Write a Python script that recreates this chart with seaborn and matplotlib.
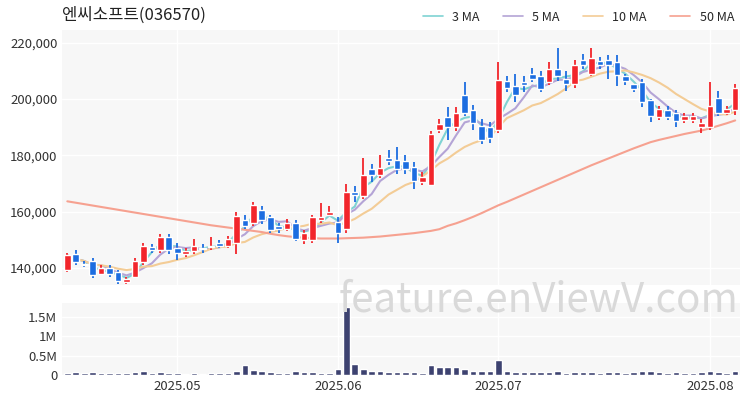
import numpy as np
import pandas as pd
import matplotlib
matplotlib.use("Agg")
import matplotlib.pyplot as plt
import seaborn as sns

# ── Data (thousand KRW) ───────────────────────────────────────────
opens = [139.5, 145, 141.5, 142.5, 138, 140, 138.5, 135, 137, 142,
         147.5, 146.5, 151, 147, 145, 146, 147, 147.5, 149, 148,
         149, 157, 156, 160.5, 158, 155, 154, 156, 150, 150,
         157, 159, 156.5, 154, 167, 165.5, 175, 173, 179, 178.5,
         178, 176, 170.5, 169.5, 189, 193.5, 190, 201.5, 196, 190.5,
         190, 189, 206.5, 204.8, 206, 209, 208, 206, 210.5, 207,
         205.5, 214, 209, 213.5, 214, 213, 208, 205.5, 206, 199.5,
         193.5, 196, 195, 192.5, 192.5, 190, 190, 200.5, 195, 196]
closes = [144.5, 142, 141, 137.5, 140, 138, 135.5, 136, 142.5, 148,
          146.5, 151, 146.5, 145.5, 146, 148, 146.8, 148, 148, 150.5,
          158.5, 155, 162.5, 157, 153.5, 154, 156, 150.5, 152.5, 158,
          158, 160, 152.5, 167, 166, 173, 173, 175.5, 178, 175,
          175, 171, 172.5, 187.5, 191, 190, 195, 195, 191.5, 185.5,
          186, 206.8, 204, 201.3, 205, 207, 203.5, 210.5, 208, 205.5,
          212, 212, 214.5, 212, 212, 208.5, 206.5, 203.5, 199, 194,
          196.5, 193.8, 192.3, 194, 194, 191.5, 197.5, 195, 196.3, 204]
highs = [145.5, 146.5, 142.5, 143.5, 141, 141, 139.5, 137, 143.5, 149,
         148.5, 152, 152, 149, 147, 150.5, 148.5, 151, 150, 151.5,
         160, 159, 163.5, 162, 159, 156, 157.5, 157, 153.5, 159,
         163, 162, 158, 170, 169, 179, 177, 180, 182, 183,
         180, 177.5, 174, 188.5, 193, 197, 197, 206, 198, 193,
         192, 213, 208, 209, 208, 211, 210, 213, 218, 210,
         214, 216, 218, 215, 215.5, 215.5, 209, 205.5, 207, 200,
         197.5, 197.5, 196, 195, 195, 193, 206, 203, 197.5, 205.5]
lows = [138.5, 141, 140.5, 136.5, 137.5, 137, 134.5, 134.5, 136.5, 141,
        145.5, 145.5, 145, 143, 144, 145, 145.5, 146.5, 147, 147,
        145, 154, 155, 155.5, 152.5, 152.5, 153, 149.5, 148.5, 149,
        156, 158.5, 149, 152.5, 163.5, 164.5, 170.5, 172, 176.5, 173.5,
        173.5, 168, 169.5, 169, 188, 185.5, 188.5, 194, 189, 184,
        184.5, 188, 202.5, 199, 202.5, 206, 202.5, 205, 206.5, 203,
        204, 210.5, 208, 210.5, 207, 204.5, 205, 202.5, 197, 192,
        192.5, 192.5, 190, 191.5, 191.5, 188, 189, 194, 194.5, 194.5]
volume = [0.06, 0.07, 0.05, 0.08, 0.06, 0.05, 0.06, 0.05, 0.08, 0.1,
          0.06, 0.07, 0.06, 0.05, 0.04, 0.05, 0.04, 0.05, 0.05, 0.06,
          0.12, 0.25, 0.14, 0.1, 0.08, 0.06, 0.06, 0.1, 0.07, 0.08,
          0.06, 0.06, 0.15, 1.75, 0.3, 0.16, 0.12, 0.1, 0.08, 0.07,
          0.07, 0.09, 0.06, 0.25, 0.22, 0.2, 0.2, 0.16, 0.12, 0.1,
          0.1, 0.4, 0.12, 0.09, 0.07, 0.08, 0.07, 0.08, 0.1, 0.06,
          0.08, 0.07, 0.08, 0.06, 0.07, 0.08, 0.06, 0.07, 0.1, 0.12,
          0.07, 0.06, 0.07, 0.05, 0.05, 0.07, 0.12, 0.09, 0.06, 0.1]
ma50 = [163.7, 163.2, 162.7, 162.2, 161.7, 161.2, 160.7, 160.2, 159.7, 159.2,
        158.7, 158.2, 157.7, 157.2, 156.7, 156.2, 155.7, 155.2, 154.8, 154.4,
        154.0, 153.6, 153.2, 152.8, 152.2, 151.7, 151.3,
        151.0, 150.8, 150.6, 150.5, 150.5, 150.5,
        150.6, 150.7, 150.8, 151.0, 151.2, 151.5, 151.8, 152.1, 152.4, 152.8, 153.2,
        153.8, 155.0, 155.9, 157.0, 158.2, 159.5, 160.9, 162.3, 163.5,
        164.8, 166.1, 167.4, 168.7, 170.0, 171.3, 172.6, 173.9, 175.2, 176.5, 177.7, 178.9,
        180.1, 181.3, 182.5, 183.6, 184.7,
        185.5, 186.2, 186.9, 187.6, 188.2, 188.8,
        189.6, 190.5, 191.4, 192.4]
tick_pos = [13, 32, 51, 76]
tick_labels = ["2025.05", "2025.06", "2025.07", "2025.08"]

df = pd.DataFrame({"open": opens, "close": closes, "high": highs, "low": lows,
                   "volume": volume, "ma50": ma50})
df = df * 1000
df["volume"] = df["volume"] * 1000
df["x"] = np.arange(len(df))
df["ma3"] = df["close"].rolling(3, min_periods=1).mean()
df["ma5"] = df["close"].rolling(5, min_periods=1).mean()
df["ma10"] = df["close"].rolling(10, min_periods=1).mean()

# ── Style ─────────────────────────────────────────────────────────
sns.set_style("white")
plt.rcParams["font.family"] = ["Noto Sans CJK KR", "DejaVu Sans"]

RED, BLUE = "#f2252b", "#1c6de0"
fig = plt.figure(figsize=(7.5, 4), dpi=100)
ax = fig.add_axes([0.083, 0.2875, 0.904, 0.6375])
axv = fig.add_axes([0.083, 0.062, 0.904, 0.18], sharex=ax)
for a in (ax, axv):
    a.set_facecolor("#f7f7f7")
    for s in a.spines.values():
        s.set_visible(False)
    a.grid(axis="both", color="white", lw=1)
    a.tick_params(length=0, labelsize=9.5, colors="#333333")

# moving averages
ma_styles = [("ma3", "3 MA", "#7fd3d3"), ("ma5", "5 MA", "#b4a4d6"),
             ("ma10", "10 MA", "#f3cc96"), ("ma50", "50 MA", "#f6a190")]
for col, lab, colr in ma_styles:
    sns.lineplot(data=df, x="x", y=col, ax=ax, color=colr, lw=1.5, label=lab)

# candles
up = df["close"] >= df["open"]
colors = np.where(up, RED, BLUE)
ax.vlines(df["x"], df["low"], df["high"], colors=colors, lw=1.3, zorder=3)
body = (df["close"] - df["open"]).abs().clip(lower=400)
ax.bar(df["x"], body, bottom=df[["open", "close"]].min(axis=1),
       width=0.78, color=colors, zorder=4)

ax.set_ylim(134000, 224500)
ax.set_yticks([140000, 160000, 180000, 200000, 220000])
ax.yaxis.set_major_formatter(matplotlib.ticker.FuncFormatter(lambda v, p: f"{int(v):,}"))
ax.set_xlim(-0.6, len(df) - 0.4)
ax.set_xlabel("")
ax.set_ylabel("")
plt.setp(ax.get_xticklabels(), visible=False)
leg = ax.legend(loc="lower right", bbox_to_anchor=(1.0, 1.0), ncol=4, frameon=False,
                fontsize=9, handlelength=1.6, columnspacing=1.8, borderaxespad=0.1)
for line in leg.get_lines():
    line.set_linewidth(1.2)

# volume
axv.bar(df["x"], df["volume"], width=0.78, color="#3d4270")
axv.set_ylim(0, 1850000)
axv.set_yticks([0, 500000, 1000000, 1500000])
axv.set_yticklabels(["0", "0.5M", "1M", "1.5M"])
axv.set_xticks(tick_pos)
axv.set_xticklabels(tick_labels)

fig.text(0.083, 0.94, "엔씨소프트(036570)", fontsize=12, color="#222222", va="bottom")
fig.text(0.985, 0.25, "feature.enViewV.com", fontsize=29, color="#d9d9d9",
         ha="right", va="center", zorder=10)

fig.savefig("out.png", dpi=100)
